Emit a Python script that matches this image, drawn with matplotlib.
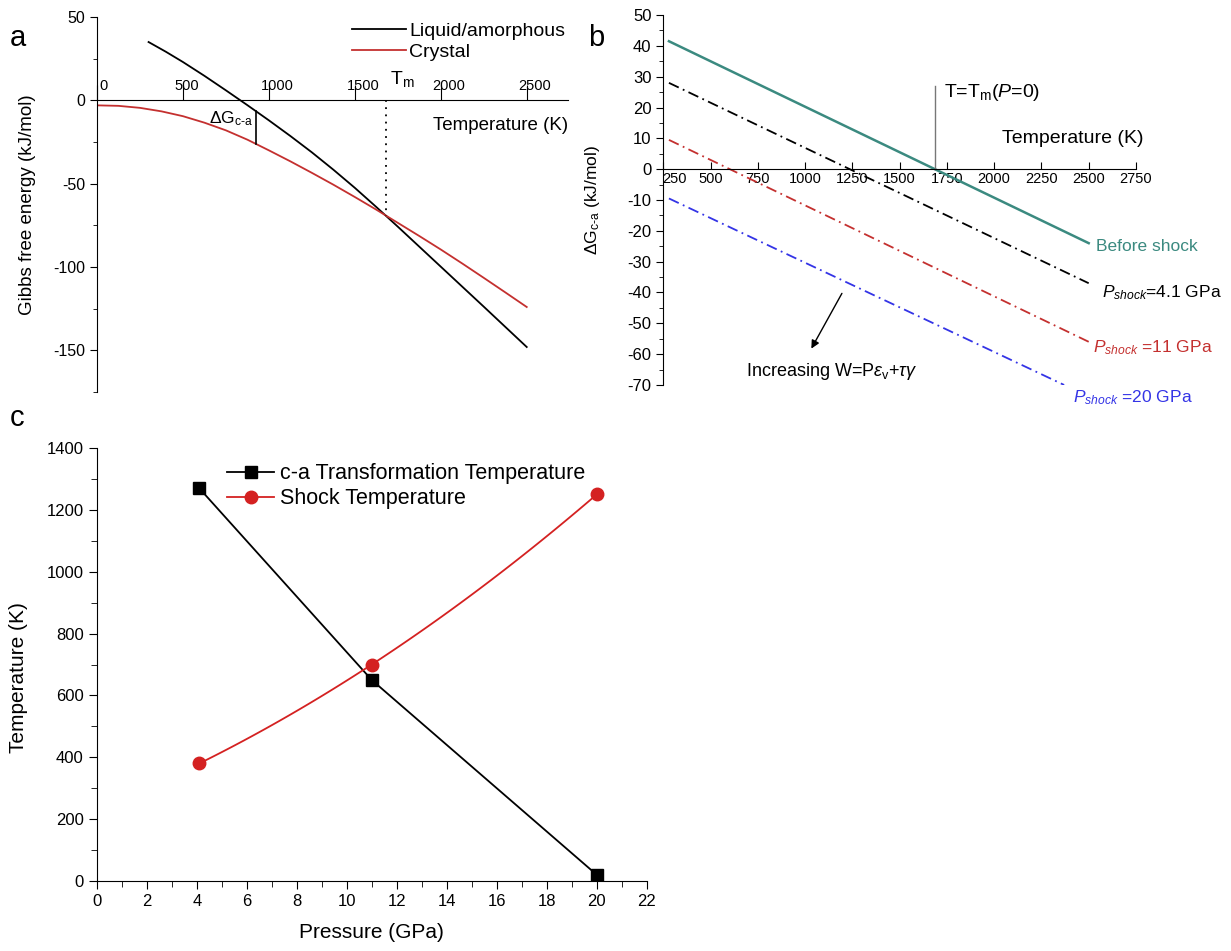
import numpy as np
import matplotlib.pyplot as plt
from matplotlib.ticker import MultipleLocator
from matplotlib.transforms import ScaledTranslation

plt.rcParams['font.family'] = ['Liberation Sans', 'DejaVu Sans']
plt.rcParams['mathtext.fontset'] = 'custom'
plt.rcParams['mathtext.rm'] = 'Liberation Sans'
plt.rcParams['mathtext.it'] = 'Liberation Sans:italic'
plt.rcParams['axes.unicode_minus'] = False

# ---- panel a: Gibbs free energy vs temperature
temp_liq = [300, 400, 500, 625, 750, 875, 1000, 1125, 1250, 1375, 1500, 1625,
            1750, 1875, 2000, 2125, 2250, 2375, 2500]
g_liq = [35, 29.2, 23, 14.7, 6, -2.9, -12, -21.4, -31.2, -41.6, -52.5, -64,
         -75.8, -87.8, -99.8, -111.8, -123.8, -135.9, -148]
temp_cry = [0, 125, 250, 375, 500, 625, 750, 875, 1000, 1125, 1250, 1375, 1500,
            1625, 1750, 1875, 2000, 2125, 2250, 2375, 2500]
g_cry = [-3, -3.3, -4.5, -6.6, -9.5, -13.4, -18, -23.6, -30, -36.6, -43.5, -50.6, -58,
         -65.6, -73.5, -81.4, -89.5, -97.9, -106.5, -115.2, -124]
t_melt = 1680
t_dg = 925
xticks_a = [0, 500, 1000, 1500, 2000, 2500]

# ---- panel b: delta G lines
t_b = [280, 2500]
dg_before = [41.5, -24]
dg_41 = [28, -37]
dg_11 = [9.5, -56]
t_b20 = [280, 2370]
dg_20 = [-9.5, -70]
t_melt_b = 1686

# ---- panel c: temperatures vs pressure
pressure = [4.1, 11, 20]
t_ca = [1270, 650, 20]
t_shock = [380, 700, 1250]

red = '#c4302f'
teal = '#3b8a80'
blue = '#3434e6'
red_c = '#d42121'
dashdot = (0, (6, 2.5, 1, 2.5))

fig = plt.figure(figsize=(12.31, 9.51), dpi=100)

# ================= a
axa = fig.add_axes([0.0788, 0.5878, 0.3826, 0.3943])
axa.plot(temp_liq, g_liq, color='black', lw=1.3, label='Liquid/amorphous')
axa.plot(temp_cry, g_cry, color=red, lw=1.3, label='Crystal')
axa.set_xlim(0, 2740)
axa.set_ylim(-175, 50)
axa.spines['right'].set_visible(False)
axa.spines['bottom'].set_visible(False)
axa.spines['top'].set_position(('data', 0))
axa.xaxis.set_ticks_position('top')
axa.set_xticks(xticks_a)
axa.tick_params(axis='x', direction='out', length=11, pad=-6, labelsize=10.5)
for i, lab in enumerate(axa.get_xticklabels()):
    lab.set_horizontalalignment('left')
    dx = 2 if i == 0 else -6
    lab.set_transform(lab.get_transform() + ScaledTranslation(dx / 72, 0, fig.dpi_scale_trans))
axa.set_yticks([-150, -100, -50, 0, 50])
axa.yaxis.set_minor_locator(MultipleLocator(25))
axa.tick_params(axis='y', which='major', direction='out', length=5, labelsize=11.5)
axa.tick_params(axis='y', which='minor', direction='out', length=3)
axa.set_ylabel('Gibbs free energy (kJ/mol)', fontsize=13.5)
axa.yaxis.set_label_coords(-0.13, 0.5)

g_lo = np.interp(t_dg, temp_cry, g_cry)
g_hi = np.interp(t_dg, temp_liq, g_liq)
axa.plot([t_dg, t_dg], [g_lo, g_hi], color='black', lw=1.2)
axa.text(t_dg - 15, -14, 'ΔG$_{\\mathrm{c‐a}}$', ha='right', va='baseline', fontsize=12.5)
g_m = np.interp(t_melt, temp_liq, g_liq)
axa.plot([t_melt, t_melt], [0, g_m], color='black', lw=1.3, ls=(0, (1, 3)))
axa.text(t_melt + 25, 10, 'T$_\\mathrm{m}$', ha='left', va='baseline', fontsize=14)
axa.text(2740, -15, 'Temperature (K)', ha='right', va='center', fontsize=13.5)
axa.legend(loc='upper left', bbox_to_anchor=(0.52, 1.0125), frameon=False, fontsize=14,
           borderpad=0, labelspacing=0.18, handlelength=2.8, handletextpad=0.15)

# ================= b
axb = fig.add_axes([0.5388, 0.5952, 0.384, 0.389])
axb.plot(t_b, dg_before, color=teal, lw=1.8)
axb.plot(t_b, dg_41, color='black', lw=1.3, ls=dashdot)
axb.plot(t_b, dg_11, color=red, lw=1.3, ls=dashdot)
axb.plot(t_b20, dg_20, color=blue, lw=1.3, ls=dashdot)
axb.set_xlim(250, 2750)
axb.set_ylim(-70, 50)
axb.spines['right'].set_visible(False)
axb.spines['top'].set_visible(False)
axb.spines['bottom'].set_position(('data', 0))
axb.set_xticks(np.arange(250, 2751, 250))
axb.tick_params(axis='x', direction='in', length=5, pad=2, labelsize=10.5)
axb.get_xticklabels()[0].set_transform(axb.get_xticklabels()[0].get_transform()
                                       + ScaledTranslation(8 / 72, 0, fig.dpi_scale_trans))
axb.set_yticks(np.arange(-70, 51, 10))
axb.yaxis.set_minor_locator(MultipleLocator(5))
axb.tick_params(axis='y', which='major', direction='out', length=5, labelsize=12)
axb.tick_params(axis='y', which='minor', direction='out', length=3)
axb.set_ylabel('ΔG$_{\\mathrm{c‐a}}$ (kJ/mol)', fontsize=12.5)
axb.yaxis.set_label_coords(-0.13, 0.5)

axb.plot([t_melt_b, t_melt_b], [0, 27], color='#777777', lw=1)
axb.text(t_melt_b + 50, 25, 'T=T$_\\mathrm{m}$($P$=0)', ha='left', va='center', fontsize=14)
axb.text(2790, 10, 'Temperature (K)', ha='right', va='center', fontsize=14)
axb.text(2540, -25, 'Before shock', color=teal, ha='left', va='center', fontsize=12.5)
axb.text(2570, -40, '$P_{shock}$=4.1 GPa', color='black', ha='left', va='center', fontsize=12.5)
axb.text(2523, -58, '$P_{shock}$ =11 GPa', color=red, ha='left', va='center', fontsize=12.5)
axb.text(2418, -74, '$P_{shock}$ =20 GPa', color=blue, ha='left', va='center', fontsize=12.5)
axb.annotate('', xy=(1026, -59), xytext=(1202, -39.5),
             arrowprops=dict(arrowstyle='-|>', color='black', lw=1, mutation_scale=12))
axb.text(1143, -65.5, 'Increasing W=P$\\varepsilon_\\mathrm{v}$+$\\tau\\gamma$',
         ha='center', va='center', fontsize=13)

# ================= c
axc = fig.add_axes([0.0786, 0.0736, 0.4468, 0.4553])
axc.plot(pressure, t_ca, color='black', lw=1.3, marker='s', ms=8,
         label='c-a Transformation Temperature')
# smooth connecting curve through the three shock points
coef = np.polyfit(pressure, t_shock, 2)
p_fine = np.linspace(pressure[0], pressure[-1], 100)
axc.plot(p_fine, np.polyval(coef, p_fine), color=red_c, lw=1.3)
axc.plot(pressure, t_shock, color=red_c, lw=0, marker='o', ms=9)
axc.plot([], [], color=red_c, lw=1.3, marker='o', ms=9, label='Shock Temperature')
axc.set_xlim(0, 22)
axc.set_ylim(0, 1400)
axc.spines['right'].set_visible(False)
axc.spines['top'].set_visible(False)
axc.set_xticks(np.arange(0, 23, 2))
axc.xaxis.set_minor_locator(MultipleLocator(1))
axc.set_yticks(np.arange(0, 1401, 200))
axc.yaxis.set_minor_locator(MultipleLocator(100))
axc.tick_params(which='major', direction='out', length=6, labelsize=12)
axc.tick_params(which='minor', direction='out', length=4)
axc.set_xlabel('Pressure (GPa)', fontsize=15, labelpad=10)
axc.set_ylabel('Temperature (K)', fontsize=15)
axc.yaxis.set_label_coords(-0.125, 0.47)
axc.legend(loc='upper left', bbox_to_anchor=(0.218, 0.99), frameon=False, fontsize=15.5,
           borderpad=0, labelspacing=0.2, handlelength=2.15, handletextpad=0.3)

fig.text(0.008, 0.952, 'a', fontsize=21)
fig.text(0.478, 0.952, 'b', fontsize=21)
fig.text(0.008, 0.552, 'c', fontsize=21)

fig.savefig('out.png', dpi=100)
